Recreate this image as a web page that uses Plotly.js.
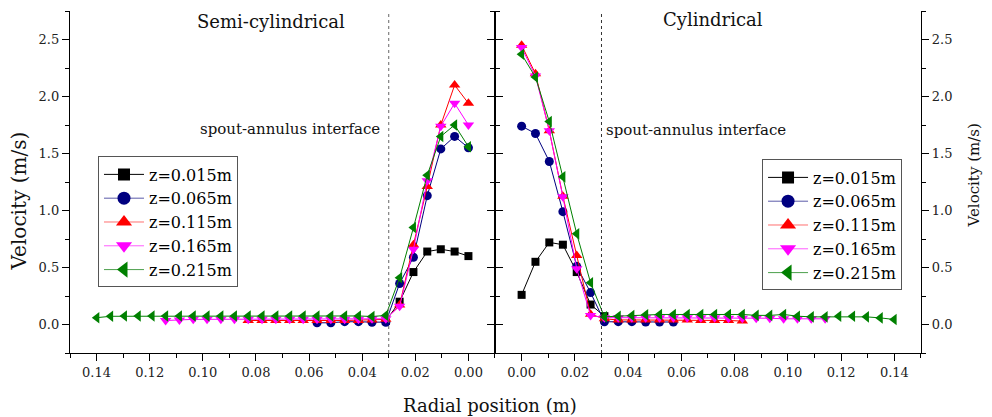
<!DOCTYPE html>
<html>
<head>
<meta charset="utf-8">
<script src="https://cdn.plot.ly/plotly-3.0.1.min.js"></script>
<style>html,body{margin:0;padding:0;background:#fff;}#chart{width:992px;height:417px;}</style>
</head>
<body>
<div id="chart"></div>
<script>
// Radial measuring positions (m), shared by both beds
const radialPos = [0.0000, 0.0052, 0.0104, 0.0155, 0.0207, 0.0259, 0.0311, 0.0363, 0.0414, 0.0466,
  0.0518, 0.0570, 0.0622, 0.0673, 0.0725, 0.0777, 0.0829, 0.0881, 0.0932, 0.0984,
  0.1036, 0.1088, 0.1140, 0.1191, 0.1243, 0.1295, 0.1347, 0.1399];
const interfacePos = 0.03;
const seriesNames = ['z=0.015m', 'z=0.065m', 'z=0.115m', 'z=0.165m', 'z=0.215m'];

// Semi-cylindrical bed velocities (m/s)
const semiZ015 = [0.60, 0.64, 0.66, 0.64, 0.46, 0.20, 0.03];
const semiZ065 = [1.55, 1.65, 1.54, 1.13, 0.59, 0.36, 0.02, 0.02, 0.025, 0.025, 0.015, 0.015];
const semiZ115 = [1.94, 2.10, 1.75, 1.21, 0.70, 0.17, 0.045, 0.04, 0.035, 0.035, 0.035, 0.035, 0.035, 0.035, 0.035, 0.035, 0.035];
const semiZ165 = [1.75, 1.94, 1.74, 1.26, 0.66, 0.16, 0.05, 0.05, 0.045, 0.045, 0.045, 0.045, 0.045, 0.045, 0.045, 0.045, 0.045, 0.045, 0.045, 0.045, 0.045, 0.04, 0.035];
const semiZ215 = [1.56, 1.75, 1.65, 1.31, 0.85, 0.41, 0.08, 0.07, 0.075, 0.075, 0.075, 0.075, 0.075, 0.075, 0.075, 0.075, 0.075, 0.075, 0.075, 0.075, 0.075, 0.075, 0.075, 0.075, 0.075, 0.075, 0.072, 0.06];

// Cylindrical bed velocities (m/s)
const cylZ015 = [0.26, 0.55, 0.72, 0.70, 0.46, 0.175, 0.073];
const cylZ065 = [1.74, 1.675, 1.43, 0.99, 0.51, 0.28, 0.024, 0.025, 0.025, 0.022, 0.022, 0.022];
const cylZ115 = [2.45, 2.20, 1.70, 1.125, 0.605, 0.09, 0.05, 0.04, 0.04, 0.04, 0.04, 0.04, 0.04, 0.035, 0.035, 0.035, 0.03];
const cylZ165 = [2.43, 2.18, 1.70, 1.12, 0.49, 0.079, 0.06, 0.06, 0.06, 0.06, 0.06, 0.06, 0.06, 0.06, 0.06, 0.055, 0.055, 0.055, 0.055, 0.05, 0.05, 0.05, 0.05];
const cylZ215 = [2.37, 2.17, 1.78, 1.295, 0.795, 0.366, 0.067, 0.073, 0.078, 0.085, 0.088, 0.088, 0.088, 0.088, 0.088, 0.088, 0.088, 0.08, 0.08, 0.088, 0.073, 0.067, 0.067, 0.073, 0.073, 0.067, 0.058, 0.044];

const colors = ['#000000', '#000080', '#ff0000', '#ff00ff', '#008000'];
const legendLineColors = ['#000000', '#5a5aa8', '#ff7070', '#ff5cff', '#4c9f4c'];
const symbols = ['square', 'circle', 'triangle-up', 'triangle-down', 'triangle-left'];
const mSizes = [8, 9, 10, 10, 10];
const legendSizes = [12, 13, 14, 14, 14];

const semiSeries = [semiZ015, semiZ065, semiZ115, semiZ165, semiZ215];
const cylSeries = [cylZ015, cylZ065, cylZ115, cylZ165, cylZ215];

const traces = [];
function addPanel(series, xa, ya, lg) {
  series.forEach((vals, i) => {
    traces.push({
      type: 'scatter', mode: 'lines+markers',
      x: radialPos.slice(0, vals.length), y: vals,
      xaxis: xa, yaxis: ya, showlegend: false,
      name: seriesNames[i],
      line: {color: colors[i], width: 1},
      marker: {color: colors[i], symbol: symbols[i], size: mSizes[i]},
      cliponaxis: false
    });
  });
  // legend entries (no data points of their own)
  series.forEach((vals, i) => {
    traces.push({
      type: 'scatter', mode: 'lines+markers',
      x: [null], y: [null],
      xaxis: xa, yaxis: ya, legend: lg, showlegend: true,
      legendgroup: lg + i,
      name: seriesNames[i],
      line: {color: legendLineColors[i], width: 1},
      marker: {color: colors[i], symbol: symbols[i], size: legendSizes[i]}
    });
  });
}
addPanel(semiSeries, 'x', 'y', 'legend');
addPanel(cylSeries, 'x2', 'y2', 'legend2');

const FONT = 'DejaVu Serif, Liberation Serif, serif';
const tickFont = {family: FONT, size: 13, color: '#222'};
const split = 0.4994;

const xCommon = {
  showline: true, linecolor: '#000', linewidth: 1.2,
  ticks: 'outside', ticklen: 7, tickwidth: 1, tickcolor: '#000',
  dtick: 0.02, tick0: 0, tickformat: '.2f',
  minor: {dtick: 0.01, ticks: 'outside', ticklen: 4, tickcolor: '#000', showgrid: false},
  showgrid: false, zeroline: false, tickfont: tickFont, mirror: false
};
const yCommon = {
  range: [-0.25, 2.75], showline: true, linecolor: '#000', linewidth: 1.2,
  ticks: 'outside', ticklen: 7, tickwidth: 1, tickcolor: '#000',
  dtick: 0.5, tick0: 0, tickformat: '.1f',
  minor: {dtick: 0.25, ticks: 'outside', ticklen: 4, tickcolor: '#000', showgrid: false},
  showgrid: false, zeroline: false, tickfont: tickFont, mirror: 'ticks'
};

const legendCommon = {
  bgcolor: '#fff', bordercolor: '#555', borderwidth: 1,
  font: {family: FONT, size: 16, color: '#000'},
  itemwidth: 40, itemsizing: 'trace', xanchor: 'left', yanchor: 'top',
  traceorder: 'normal', tracegroupgap: 2
};

const layout = {
  width: 992, height: 417,
  margin: {l: 70, r: 71, t: 11, b: 64},
  paper_bgcolor: '#fff', plot_bgcolor: '#fff',
  showlegend: true,
  xaxis: Object.assign({}, xCommon, {domain: [0, split], range: [0.15, -0.01], anchor: 'y'}),
  xaxis2: Object.assign({}, xCommon, {domain: [split, 1], range: [-0.01, 0.15], anchor: 'y2'}),
  yaxis: Object.assign({}, yCommon, {anchor: 'x', side: 'left'}),
  yaxis2: Object.assign({}, yCommon, {anchor: 'x2', side: 'right'}),
  legend: Object.assign({}, legendCommon, {x: 0.0329, y: 0.5746}),
  legend2: Object.assign({}, legendCommon, {x: 0.8132, y: 0.5658}),
  shapes: [
    {type: 'line', xref: 'x', yref: 'y domain', x0: interfacePos, x1: interfacePos, y0: 0, y1: 1,
     line: {color: '#666', width: 1, dash: 'dot'}},
    {type: 'line', xref: 'x2', yref: 'y2 domain', x0: interfacePos, x1: interfacePos, y0: 0, y1: 1,
     line: {color: '#333', width: 1, dash: 'dot'}}
  ],
  annotations: [
    {text: 'Semi-cylindrical', xref: 'paper', yref: 'paper', x: 0.2362, y: 0.9693, showarrow: false,
     xanchor: 'center', yanchor: 'middle', font: {family: FONT, size: 18, color: '#111'}},
    {text: 'Cylindrical', xref: 'paper', yref: 'paper', x: 0.7556, y: 0.975, showarrow: false,
     xanchor: 'center', yanchor: 'middle', font: {family: FONT, size: 18, color: '#111'}},
    {text: 'spout-annulus interface', xref: 'paper', yref: 'paper', x: 0.2585, y: 0.6564, showarrow: false,
     xanchor: 'center', yanchor: 'middle', font: {family: FONT, size: 15, color: '#111'}},
    {text: 'spout-annulus interface', xref: 'paper', yref: 'paper', x: 0.7356, y: 0.6535, showarrow: false,
     xanchor: 'center', yanchor: 'middle', font: {family: FONT, size: 15, color: '#111'}},
    {text: 'Radial position (m)', xref: 'paper', yref: 'paper', x: 0.4935, y: -0.1535, showarrow: false,
     xanchor: 'center', yanchor: 'middle', font: {family: FONT, size: 18, color: '#111'}},
    {text: 'Velocity (m/s)', xref: 'paper', yref: 'paper', x: (18 - 70) / 851, y: (353.5 - 202) / 342,
     showarrow: false, textangle: -90, xanchor: 'center', yanchor: 'middle',
     font: {family: FONT, size: 20, color: '#111'}},
    {text: 'Velocity (m/s)', xref: 'paper', yref: 'paper', x: (973 - 70) / 851, y: (353.5 - 176) / 342,
     showarrow: false, textangle: -90, xanchor: 'center', yanchor: 'middle',
     font: {family: FONT, size: 15, color: '#111'}}
  ]
};

Plotly.newPlot('chart', traces, layout, {displayModeBar: false, staticPlot: true});
</script>
</body>
</html>
